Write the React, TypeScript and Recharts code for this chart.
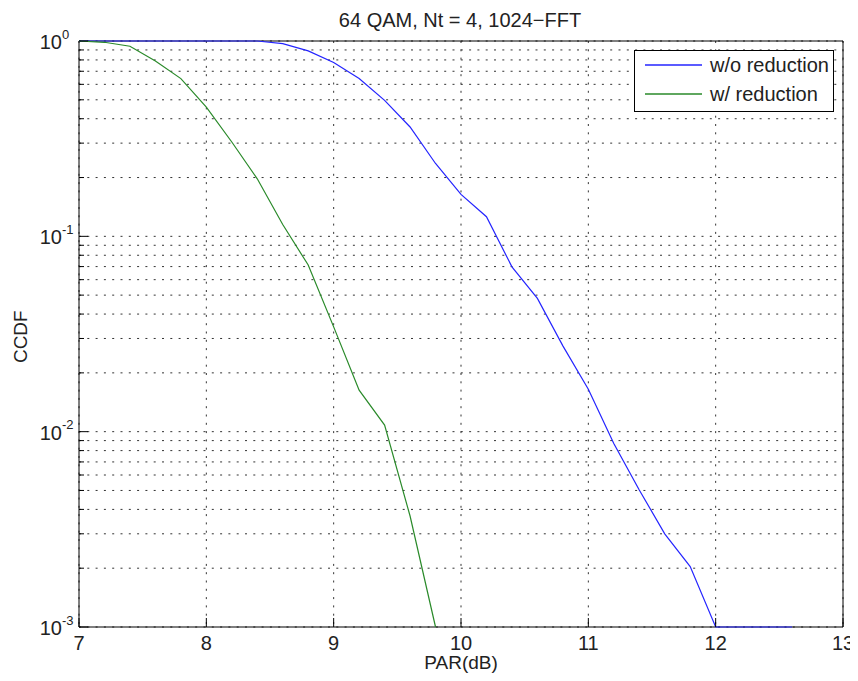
import React from 'react';
import { LineChart, Line, XAxis, YAxis, CartesianGrid } from 'recharts';

// PAR values (dB) and CCDF
const parNoRed = [7.0, 7.2, 7.4, 7.6, 7.8, 8.0, 8.2, 8.4, 8.6, 8.8, 9.0, 9.2, 9.4, 9.6, 9.8, 10.0, 10.2, 10.4, 10.6, 10.8, 11.0, 11.2, 11.4, 11.6, 11.8, 12.0, 12.2, 12.4, 12.6];
const ccdfNoRed = [1, 1, 1, 1, 1, 1, 1, 1, 0.97, 0.89, 0.776, 0.642, 0.497, 0.363, 0.236, 0.164, 0.126, 0.0698, 0.0481, 0.0275, 0.0165, 0.0087, 0.00503, 0.003, 0.00204, 0.001, 0.001, 0.001, 0.001];

const parRed = [7.0, 7.2, 7.4, 7.6, 7.8, 8.0, 8.2, 8.4, 8.6, 8.8, 9.0, 9.2, 9.4, 9.6, 9.8];
const ccdfRed = [1, 0.985, 0.94, 0.79, 0.642, 0.459, 0.304, 0.197, 0.115, 0.0713, 0.0344, 0.0163, 0.0108, 0.0037, 0.001];

const xTicks = [7, 8, 9, 10, 11, 12, 13];
const yTicks = [
  0.001, 0.002, 0.003, 0.004, 0.005, 0.006, 0.007, 0.008, 0.009,
  0.01, 0.02, 0.03, 0.04, 0.05, 0.06, 0.07, 0.08, 0.09,
  0.1, 0.2, 0.3, 0.4, 0.5, 0.6, 0.7, 0.8, 0.9,
  1,
];

const seriesNames = ['w/o reduction', 'w/ reduction'];
const seriesColors = ['#2424ff', '#2a8a2a'];

const FONT = '"Liberation Sans", Arial, Helvetica, sans-serif';
const W = 842;
const H = 665;

const dataNoRed = parNoRed.map((x, i) => ({ x, y: ccdfNoRed[i] }));
const dataRed = parRed.map((x, i) => ({ x, y: ccdfRed[i] }));

const XTick = (side: 'bottom' | 'top') => (props: any) => {
  const { x, y, payload } = props;
  const dir = side === 'bottom' ? -1 : 1;
  return (
    <g>
      <line x1={x} y1={y} x2={x} y2={y + dir * 9} stroke="#000" strokeWidth={1} />
      {side === 'bottom' && (
        <text x={x} y={y + 23} textAnchor="middle" fontSize={20} fontFamily={FONT} fill="#222">
          {payload.value}
        </text>
      )}
    </g>
  );
};

const YTick = (side: 'left' | 'right') => (props: any) => {
  const { x, y, payload } = props;
  const lg = Math.log10(payload.value);
  const exp = Math.round(lg);
  const major = Math.abs(lg - exp) < 1e-6;
  const dir = side === 'left' ? 1 : -1;
  const len = major ? 9 : 5;
  return (
    <g>
      <line x1={x} y1={y} x2={x + dir * len} y2={y} stroke="#000" strokeWidth={1} />
      {side === 'left' && major && (
        <g fontFamily={FONT} fill="#222">
          <text x={x - 17} y={y + 8} textAnchor="end" fontSize={20}>10</text>
          <text x={x - 17} y={y - 2.5} textAnchor="start" fontSize={13}>
            {exp === 0 ? '0' : `-${Math.abs(exp)}`}
          </text>
        </g>
      )}
    </g>
  );
};

export default function App() {
  return (
    <div style={{ position: 'relative', width: W, height: H, background: '#fff', fontFamily: FONT }}>
      <style>{`html { overflow: hidden; } .recharts-wrapper, .recharts-surface { overflow: visible !important; }`}</style>
      <LineChart width={W} height={H} margin={{ top: 0, right: 0, bottom: 0, left: 0 }}>
        <CartesianGrid stroke="#333" strokeDasharray="2 6.3" strokeWidth={1} />
        <XAxis
          dataKey="x"
          type="number"
          domain={[7, 13]}
          ticks={xTicks}
          interval={0}
          height={46}
          tickSize={0}
          tickMargin={0}
          tickLine={false}
          axisLine={{ stroke: '#000' }}
          tick={XTick('bottom')}
        />
        <XAxis
          xAxisId="top"
          orientation="top"
          dataKey="x"
          type="number"
          domain={[7, 13]}
          ticks={xTicks}
          interval={0}
          height={33}
          tickSize={0}
          tickMargin={0}
          tickLine={false}
          axisLine={{ stroke: '#000' }}
          tick={XTick('top')}
        />
        <YAxis
          type="number"
          scale="log"
          domain={[0.001, 1]}
          ticks={yTicks}
          interval={0}
          width={71}
          tickSize={0}
          tickMargin={0}
          tickLine={false}
          axisLine={{ stroke: '#000' }}
          tick={YTick('left')}
        />
        <YAxis
          yAxisId="right"
          orientation="right"
          type="number"
          scale="log"
          domain={[0.001, 1]}
          ticks={yTicks}
          interval={0}
          width={7}
          tickSize={0}
          tickMargin={0}
          tickLine={false}
          axisLine={{ stroke: '#000' }}
          tick={YTick('right')}
        />
        <Line
          data={dataNoRed}
          dataKey="y"
          type="linear"
          stroke={seriesColors[0]}
          strokeWidth={1.2}
          dot={false}
          isAnimationActive={false}
          {...({ zIndex: 1000 } as any)}
        />
        <Line
          data={dataRed}
          dataKey="y"
          type="linear"
          stroke={seriesColors[1]}
          strokeWidth={1.2}
          dot={false}
          isAnimationActive={false}
          {...({ zIndex: 1000 } as any)}
        />
      </LineChart>

      {/* title, axis labels and legend on top of the chart */}
      <svg
        width={W}
        height={H}
        style={{ position: 'absolute', left: 0, top: 0, overflow: 'visible', pointerEvents: 'none' }}
        fontFamily={FONT}
      >
        <text x={452} y={18.7} textAnchor="middle" fontSize={20} fill="#222">
          64 QAM, Nt = 4, 1024−FFT
        </text>
        <text x={453} y={661} textAnchor="middle" fontSize={19} fill="#222">
          PAR(dB)
        </text>
        <text x={18.7} y={328.7} textAnchor="middle" fontSize={19} fill="#222" transform="rotate(-90 18.7 328.7)">
          CCDF
        </text>
        <rect x={626.5} y={42.5} width={199} height={61} fill="#fff" stroke="#000" strokeWidth={1} />
        {seriesNames.map((name, i) => (
          <g key={name}>
            <line x1={637} y1={57 + i * 29} x2={694} y2={57 + i * 29} stroke={seriesColors[i]} strokeWidth={1.5} />
            <text x={702} y={64 + i * 29} fontSize={20} fill="#222">
              {name}
            </text>
          </g>
        ))}
      </svg>
    </div>
  );
}
